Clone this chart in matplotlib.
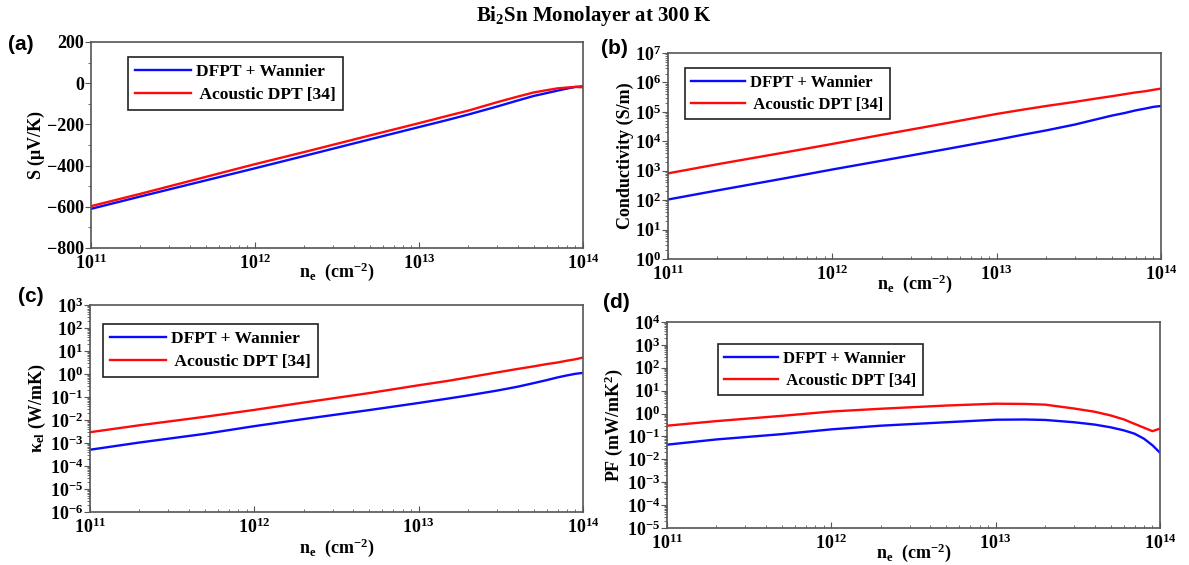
import matplotlib
matplotlib.use("Agg")
import matplotlib.pyplot as plt
from matplotlib.ticker import FixedLocator, FixedFormatter, LogLocator, MultipleLocator, NullFormatter

plt.rcParams['font.family'] = ['Liberation Serif', 'DejaVu Serif']
plt.rcParams['font.weight'] = 'bold'
plt.rcParams['axes.labelweight'] = 'bold'
plt.rcParams['mathtext.fontset'] = 'custom'
plt.rcParams['mathtext.rm'] = 'Liberation Serif:bold'
plt.rcParams['mathtext.it'] = 'Liberation Serif:bold'
plt.rcParams['mathtext.bf'] = 'Liberation Serif:bold'

# --- dane: koncentracja nosnikow i wielkosci transportowe ---
ne = [1e11, 2e11, 5e11, 1e12, 2e12, 5e12, 1e13, 1.5e13, 2e13, 3e13,
      4e13, 5e13, 6e13, 7e13, 8e13, 9e13, 1e14]

S_dfpt = [-610, -550, -472, -413, -353, -273, -213, -178, -152, -113,
          -84, -62, -48, -36, -26, -18, -15]
S_adp = [-597, -537, -455, -393, -334, -254, -194, -158, -133, -92,
         -65, -45, -34, -25, -21, -18, -20]

sigma_dfpt = [105, 214, 537, 1100, 2190, 5500, 11200, 17400, 23400, 37200,
              55000, 74100, 91200, 112000, 129000, 148000, 158000]
sigma_adp = [813, 1660, 4070, 8130, 16600, 41700, 85100, 123000, 158000, 219000,
             282000, 339000, 398000, 457000, 501000, 562000, 617000]

kappa_dfpt = [5.1e-4, 1.05e-3, 2.5e-3, 5.4e-3, 1.1e-2, 2.7e-2, 5.5e-2, 0.085, 0.117, 0.19,
              0.28, 0.4, 0.54, 0.71, 0.87, 1.02, 1.12]
kappa_adp = [2.95e-3, 5.9e-3, 1.38e-2, 2.75e-2, 5.75e-2, 0.148, 0.324, 0.5, 0.71, 1.17,
             1.66, 2.14, 2.69, 3.16, 3.8, 4.37, 5.2]

pf_dfpt = [0.0437, 0.074, 0.126, 0.204, 0.295, 0.417, 0.537, 0.55, 0.525, 0.417,
           0.33, 0.251, 0.186, 0.132, 0.079, 0.041, 0.0195]
pf_adp = [0.295, 0.468, 0.794, 1.23, 1.62, 2.24, 2.69, 2.63, 2.45, 1.66,
          1.2, 0.83, 0.56, 0.355, 0.24, 0.17, 0.22]

labels = ['DFPT + Wannier', ' Acoustic DPT [34]']
x_dec = [11, 12, 13, 14]

W, H = 1189, 565
fig = plt.figure(figsize=(W / 100, H / 100), dpi=100)


def add_ax(l, t, r, b):
    return fig.add_axes([l / W, 1 - b / H, (r - l) / W, (b - t) / H])


def power_labels(exps):
    return [r'$\mathdefault{10^{%d}}$' % e for e in exps]


def style(ax, xlabel_pad):
    ax.set_xscale('log')
    ax.set_xlim(1e11, 1e14)
    ax.xaxis.set_major_locator(FixedLocator([10.0 ** e for e in x_dec]))
    ax.xaxis.set_major_formatter(FixedFormatter(power_labels(x_dec)))
    ax.xaxis.set_minor_locator(LogLocator(base=10, subs=range(2, 10), numticks=50))
    ax.xaxis.set_minor_formatter(NullFormatter())
    ax.tick_params(axis='x', which='major', direction='in', length=4, labelsize=13, pad=4, color='#555555')
    ax.tick_params(axis='x', which='minor', direction='in', length=2.5, color='#555555')
    ax.tick_params(axis='y', which='major', direction='out', length=4, labelsize=13, pad=1, color='#555555')
    ax.tick_params(axis='y', which='minor', direction='out', length=2, color='#555555')
    for s in ax.spines.values():
        s.set_color('#555555')
        s.set_linewidth(1.2)
    ax.set_xlabel(r'n$_\mathregular{e}$  (cm$^\mathregular{-2}$)', fontsize=13, labelpad=xlabel_pad)


def log_y(ax, lo, hi):
    ax.set_yscale('log')
    ax.set_ylim(10.0 ** lo, 10.0 ** hi)
    exps = list(range(lo, hi + 1))
    ax.yaxis.set_major_locator(FixedLocator([10.0 ** e for e in exps]))
    ax.yaxis.set_major_formatter(FixedFormatter(power_labels(exps)))
    ax.yaxis.set_minor_locator(LogLocator(base=10, subs=range(2, 10), numticks=50))
    ax.yaxis.set_minor_formatter(NullFormatter())


def draw(ax, blue, red, anchor, fsize):
    ax.plot(ne, blue, color='#0a0aff', lw=1.7, label=labels[0])
    ax.plot(ne, red, color='#ff0a0a', lw=1.7, label=labels[1])
    leg = ax.legend(loc='upper left', bbox_to_anchor=anchor, borderaxespad=0,
                    fontsize=fsize, handlelength=3.2, handletextpad=0.3,
                    labelspacing=0.35, borderpad=0.4, fancybox=False,
                    framealpha=1, edgecolor='#222222')
    leg.get_frame().set_linewidth(1.2)


# (a) wspolczynnik Seebecka
ax_a = add_ax(91, 42, 583, 248)
draw(ax_a, S_dfpt, S_adp, (0.075, 0.927), 12.6)
style(ax_a, -9)
ax_a.set_ylim(-800, 200)
ax_a.yaxis.set_major_locator(MultipleLocator(200))
ax_a.yaxis.set_minor_locator(MultipleLocator(100))
ax_a.set_ylabel(r'S ($\mathregular{\mu}$V/K)', fontsize=13, labelpad=0)

# (b) przewodnictwo
ax_b = add_ax(668, 53, 1161, 259)
draw(ax_b, sigma_dfpt, sigma_adp, (0.034, 0.927), 12)
style(ax_b, -8)
log_y(ax_b, 0, 7)
ax_b.set_ylabel('Conductivity (S/m)', fontsize=13, labelpad=1)

# (c) elektronowe przewodnictwo cieplne
ax_c = add_ax(90, 305, 583, 512)
draw(ax_c, kappa_dfpt, kappa_adp, (0.026, 0.908), 12.6)
style(ax_c, 0)
log_y(ax_c, -6, 3)
ax_c.set_ylabel(r'$\mathregular{\kappa_{el}}$ (W/mK)', fontsize=13, labelpad=1)

# (d) wspolczynnik mocy
ax_d = add_ax(667, 322, 1160, 528)
draw(ax_d, pf_dfpt, pf_adp, (0.103, 0.893), 12)
style(ax_d, -8)
log_y(ax_d, -5, 4)
ax_d.set_ylabel(r'PF (mW/mK$^\mathregular{2}$)', fontsize=13, labelpad=1)

fig.text(594 / W, 1 - 16 / H, r'Bi$_\mathregular{2}$Sn Monolayer at 300 K',
         ha='center', va='center', fontsize=15, weight='bold')

panel_font = dict(family='Liberation Sans', weight='bold', fontsize=15, va='center', ha='left')
fig.text(8 / W, 1 - 45 / H, '(a)', **panel_font)
fig.text(601 / W, 1 - 48 / H, '(b)', **panel_font)
fig.text(18 / W, 1 - 296 / H, '(c)', **panel_font)
fig.text(603 / W, 1 - 303 / H, '(d)', **panel_font)

fig.savefig('out.png', dpi=100)
